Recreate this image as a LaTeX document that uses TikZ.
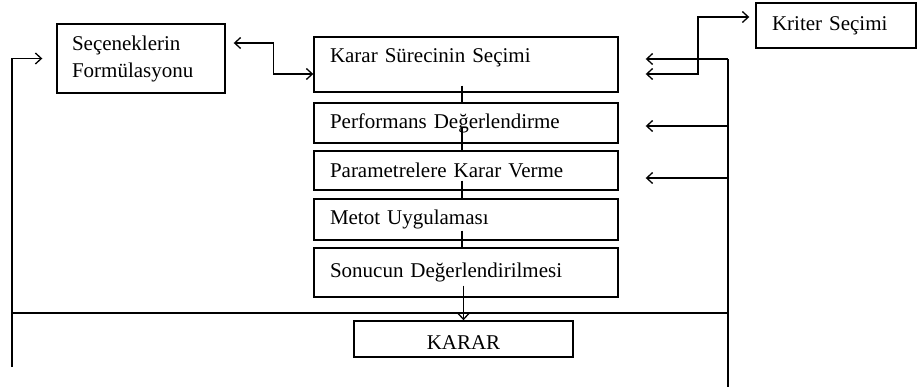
\documentclass[tikz,border=0pt]{standalone}
\usepackage{fontspec}
\setmainfont{Liberation Serif}
\usetikzlibrary{arrows.meta}
\begin{document}
\begin{tikzpicture}
            [x=1pt, y=-1pt,
            box/.style={draw, line width=1.4pt, align=left, font=\fontsize{21}{27}\selectfont},
            stage/.style={box, text width=272pt, inner xsep=16pt},
            edge/.style={line width=1.3pt, black},
            arrow/.style={edge, -{Straight Barb[length=6pt, width=11pt]}},
            dblarrow/.style={edge, {Straight Barb[length=6pt, width=11pt]}-{Straight Barb[length=6pt, width=11pt]}}]

            \useasboundingbox (0,0) rectangle (917,389);

            \node[box, text width=138pt, inner xsep=15pt, minimum height=69pt] (secenek) at (141,58.5) {Seçeneklerin\\Formülasyonu};
            \node[stage, minimum height=55pt, text depth=17pt] (surec) at (466,64.5) {Karar Sürecinin Seçimi};
            \node[stage, minimum height=40pt] (perf) at (466,123) {Performans Değerlendirme};
            \node[stage, minimum height=39pt] (param) at (466,170.5) {Parametrelere Karar Verme};
            \node[stage, minimum height=41pt] (metot) at (466,219.5) {Metot Uygulaması};
            \node[stage, minimum height=49pt] (sonuc) at (466,272.5) {Sonucun Değerlendirilmesi};
            \node[box, text width=219pt, inner xsep=0pt, align=center, minimum height=36pt, text height=20pt] (karar) at (463.5,339) {KARAR};
            \node[box, text width=128pt, inner xsep=16pt, minimum height=45pt] (kriter) at (836,25.5) {Kriter Seçimi};

            \coordinate (lb) at (12,367);
            \coordinate (hl) at (12,313);
            \coordinate (hr) at (728,313);
            \coordinate (rt) at (728,59);
            \coordinate (rb) at (728,387);
            \coordinate (kc) at (698,17);

            % feedback lines
            \draw[edge] (hl) -- (hr);
            \draw[edge] (rt) -- (rb);
            \draw[arrow, shorten >=14pt] (lb) |- (secenek.west);
            \draw[dblarrow] ([xshift=8pt,yshift=15.5pt]secenek.east) -| ([xshift=-40pt,yshift=-9.5pt]surec.west) -- ([yshift=-9.5pt]surec.west);
            \draw[dblarrow, shorten >=6pt] ([xshift=27pt,yshift=-9.5pt]surec.east) -| (kc) -- ([yshift=8.5pt]kriter.west);
            \draw[arrow, shorten >=27pt] (rt) -- (rt -| surec.east);
            \draw[arrow, shorten >=27pt] ([xshift=110pt,yshift=-3pt]perf.east) -- ([yshift=-3pt]perf.east);
            \draw[arrow, shorten >=27pt] ([xshift=110pt,yshift=-7.5pt]param.east) -- ([yshift=-7.5pt]param.east);

            % main flow
            \draw[edge] ([xshift=-4pt,yshift=7pt]surec.south) -- ([xshift=-4pt]perf.north);
            \draw[edge] ([xshift=-4pt,yshift=16pt]perf.south) -- ([xshift=-4pt]param.north);
            \draw[edge] ([xshift=-4pt,yshift=10pt]param.south) -- ([xshift=-4pt]metot.north);
            \draw[edge] ([xshift=-4pt,yshift=10pt]metot.south) -- ([xshift=-4pt]sonuc.north);
            \draw[arrow] ([xshift=-2.5pt,yshift=12pt]sonuc.south) -- (karar.north);

        \end{tikzpicture}
\end{document}
